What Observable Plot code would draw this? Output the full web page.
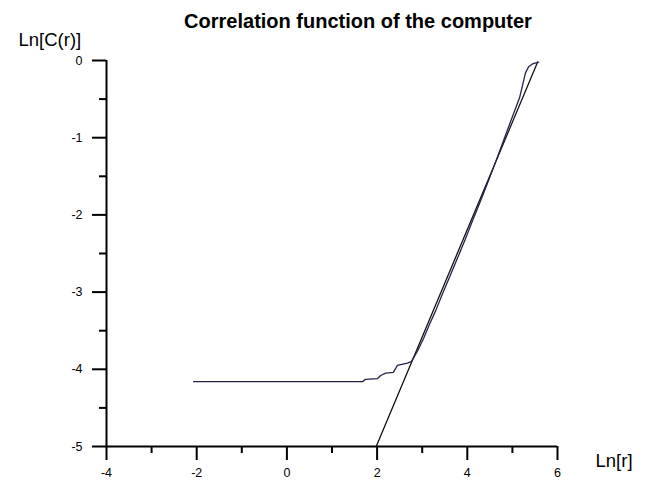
<!DOCTYPE html>
<html>
<head>
<meta charset="utf-8">
<script src="https://cdn.jsdelivr.net/npm/d3@7"></script>
<script src="https://cdn.jsdelivr.net/npm/@observablehq/plot@0.6"></script>
<style>
  html, body { margin: 0; padding: 0; background: #ffffff; }
  #chart { width: 648px; height: 481px; }
</style>
</head>
<body>
<div id="chart"></div>
<script>
// Correlation curve: ln r vs ln C(r)
const curveX = [-2.07, 1.68, 1.74, 2.01, 2.08, 2.19, 2.36, 2.45, 2.67, 2.76,
  2.90, 3.03, 3.16, 3.30, 3.45, 3.61, 3.79, 3.96, 4.12, 4.30, 4.46, 4.63,
  4.79, 4.93, 5.05, 5.16, 5.23, 5.29, 5.36, 5.46, 5.58];
const curveY = [-4.16, -4.16, -4.13, -4.12, -4.08, -4.05, -4.04, -3.95, -3.92, -3.90,
  -3.76, -3.60, -3.42, -3.24, -3.02, -2.80, -2.55, -2.31, -2.07, -1.81, -1.57, -1.31,
  -1.06, -0.84, -0.65, -0.48, -0.31, -0.16, -0.08, -0.04, -0.02];
// Fitted straight line
const fitX = [1.98, 5.56];
const fitY = [-5, -0.02];
// Axis ticks
const xMajor = [-4, -2, 0, 2, 4, 6];
const xMinor = [-3, -1, 1, 3, 5];
const yMajor = [0, -1, -2, -3, -4, -5];
const yMinor = [-0.5, -1.5, -2.5, -3.5, -4.5];

const curve = curveX.map((x, i) => ({x, y: curveY[i]}));
const fit = fitX.map((x, i) => ({x, y: fitY[i]}));

const font = "Liberation Sans, Arial, Helvetica, sans-serif";
const fmt = d => String(d);

const chart = Plot.plot({
  width: 648,
  height: 481,
  marginLeft: 106,
  marginRight: 91,
  marginTop: 60,
  marginBottom: 35,
  style: {fontFamily: font, background: "#ffffff", color: "#000"},
  x: {domain: [-4, 6], label: null},
  y: {domain: [-5, 0], label: null},
  marks: [
    Plot.axisX(xMajor, {tickSize: 14, tickPadding: 8, strokeWidth: 2, fontSize: 12.5, tickFormat: fmt, stroke: "#000", fill: "#000", label: null}),
    Plot.axisX(xMinor, {tickSize: 7, strokeWidth: 2, text: null, stroke: "#000", label: null}),
    Plot.axisY(yMajor, {tickSize: 14, tickPadding: 10, strokeWidth: 2, fontSize: 12.5, tickFormat: fmt, stroke: "#000", fill: "#000", label: null}),
    Plot.axisY(yMinor, {tickSize: 7, strokeWidth: 2, text: null, stroke: "#000", label: null}),
    Plot.ruleX([-4], {y1: -5, y2: 0, stroke: "#000", strokeWidth: 2}),
    Plot.ruleY([-5], {x1: -4, x2: 6, stroke: "#000", strokeWidth: 2}),
    Plot.line(fit, {x: "x", y: "y", stroke: "#111", strokeWidth: 1.3}),
    Plot.line(curve, {x: "x", y: "y", stroke: "#23234a", strokeWidth: 1.3}),
    Plot.text(["Correlation function of the computer"], {frameAnchor: "top", dx: 26, dy: -33, lineAnchor: "bottom", fontSize: 20, fontWeight: "bold", fill: "#000"}),
    Plot.text(["Ln[C(r)]"], {frameAnchor: "top-left", textAnchor: "start", dx: -88, dy: -15, lineAnchor: "bottom", fontSize: 18.5, fill: "#000"}),
    Plot.text(["Ln[r]"], {frameAnchor: "bottom-right", textAnchor: "start", dx: 38, dy: 20, lineAnchor: "bottom", fontSize: 18.5, fill: "#000"})
  ]
});
document.getElementById("chart").appendChild(chart);
</script>
</body>
</html>
